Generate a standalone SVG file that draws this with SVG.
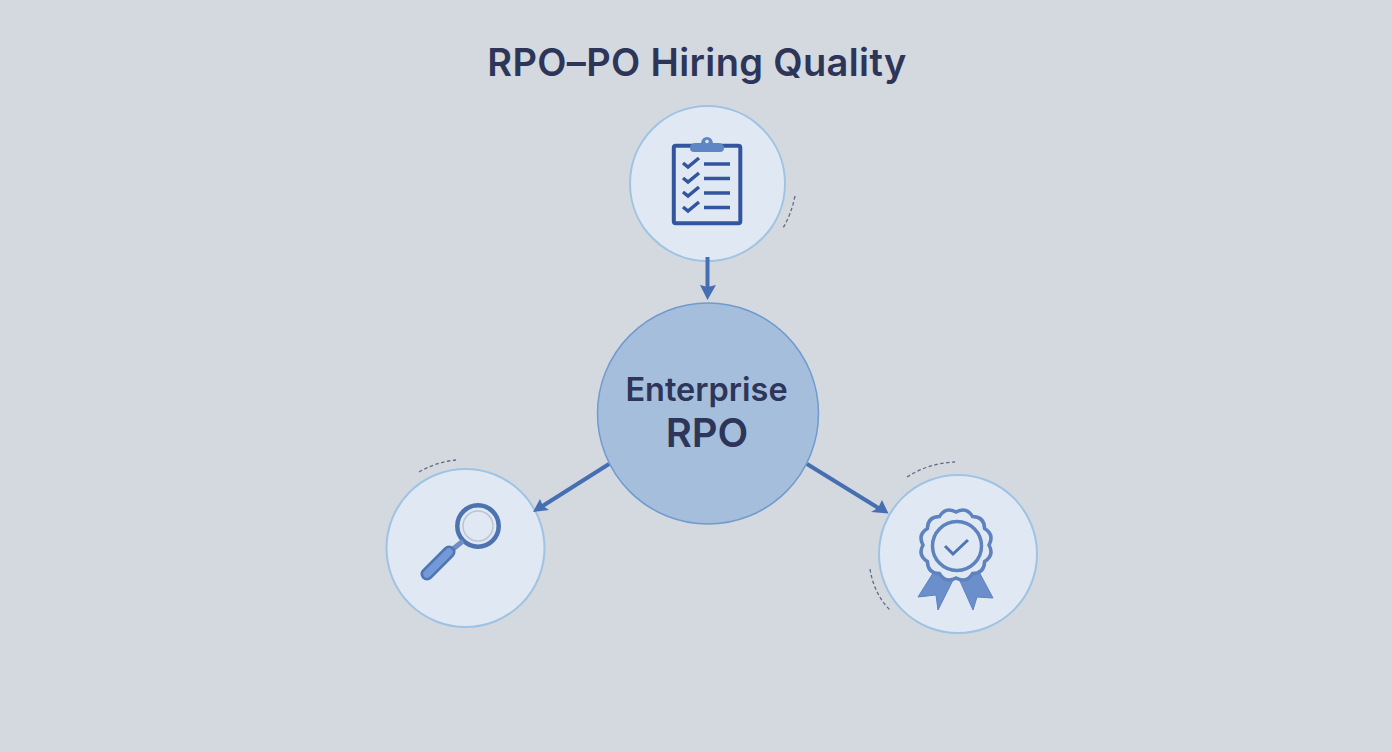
<svg xmlns="http://www.w3.org/2000/svg" width="1392" height="752" viewBox="0 0 1392 752">
<style>
.t{font-family:Inter,"Liberation Sans",sans-serif;font-weight:600;fill:#2d3558;text-anchor:middle}
.sat{fill:#e0e8f3;stroke:#9fc3e2;stroke-width:2}
.dash{fill:none;stroke:#5f6d88;stroke-width:1.300;stroke-dasharray:3.500 2.500}
.conn{fill:none;stroke:#456fb2;stroke-width:4}
.head{fill:#456fb2}
.ink{fill:none;stroke:#33559f;stroke-width:3.500}
.ico{fill:none;stroke:#5d82bd;stroke-width:3.500}
.rib{fill:#6b8fcb;stroke:#5d82bd}
</style>
<rect id="background" width="1392" height="752" fill="#d4d8df"/>
<g id="title"><text class="t" x="697" y="76" font-size="38" letter-spacing="0.350">RPO–PO Hiring Quality</text></g>
<g id="node-clipboard">
<circle class="sat" cx="707.500" cy="183.500" r="77.500"/>
<path class="dash" d="M795 196Q791 215 783 228"/>
<rect x="673.800" y="145.800" width="66.500" height="77.500" rx="2" class="ink" style="stroke-width:4"/>
<path d="M690 148Q690 143 696 143H701Q702 137 707 137Q712 137 713 143H718Q724 143 724 148Q724 152 720 152H694Q690 152 690 148Z" fill="#5f86c4"/>
<circle cx="707" cy="141.500" r="1.800" fill="#dfe7f3"/>
<path class="ink" d="M683 163L688 167L699 158M683 178L688 182L699 173M683 192L688 196L699 187M683 207L688 211L699 202"/>
<path class="ink" d="M704 164H730M704 178.500H730M704 193H730M704 207.500H730"/>
</g>
<g id="node-enterprise">
<circle cx="708" cy="413.500" r="110.500" fill="#a5bedc" stroke="#6f9bd0" stroke-width="1.500"/>
<text class="t" x="706.500" y="401" font-size="32.500">Enterprise</text>
<text class="t" x="707" y="447" font-size="40">RPO</text>
</g>
<g id="node-magnifier">
<circle class="sat" cx="465.500" cy="548" r="79"/>
<path class="dash" d="M419 472Q436 462 456 460"/>
<circle cx="478" cy="526" r="15" fill="none" stroke="#b9c5d6" stroke-width="1.500"/>
<circle cx="478" cy="526" r="20.700" fill="none" stroke="#4d72b0" stroke-width="4.500"/>
<path d="M463 541L453 549" stroke="#6f8fc2" stroke-width="5" fill="none"/>
<path d="M427 574L449 552" stroke="#4f75b5" stroke-width="13" stroke-linecap="round" fill="none"/>
<path d="M427 574L449 552" stroke="#7399d6" stroke-width="7.500" stroke-linecap="round" fill="none"/>
</g>
<g id="node-award">
<circle class="sat" cx="958" cy="554" r="79"/>
<path class="dash" d="M907 477Q929 463 955 462"/>
<path class="dash" d="M870 569Q874 594 890 610"/>
<path class="rib" d="M935 570L918 597L936 595L938 610L953 580Z"/>
<path class="rib" d="M978 570L993 598L977 597L973 610L960 581Z"/>
<path class="ico" style="fill:#e0e8f3" d="M989 545Q994.600 555.400 984.600 561.500Q984.300 573.300 972.500 573.600Q966.400 583.600 956 578Q945.600 583.600 939.500 573.600Q927.700 573.300 927.400 561.500Q917.400 555.400 923 545Q917.400 534.600 927.400 528.500Q927.700 516.700 939.500 516.400Q945.600 506.400 956 512Q966.400 506.400 972.500 516.400Q984.300 516.700 984.600 528.500Q994.600 534.600 989 545Z"/>
<circle cx="957" cy="546" r="24.500" class="ico"/>
<path d="M945 546L953 554L968 540" fill="none" stroke="#4f75b5" stroke-width="3"/>
</g>
<g id="connectors">
<path class="conn" d="M707.500 257V287"/><path class="head" d="M700 285L707.500 287L716 285L707.500 300Z"/>
<path class="conn" d="M609 464L541 507"/><path class="head" d="M533 512L540 499L543 506L549 510Z"/>
<path class="conn" d="M807 464L880 509"/><path class="head" d="M888.500 513.500L871 512L878 508L882 500Z"/>
</g>
</svg>
